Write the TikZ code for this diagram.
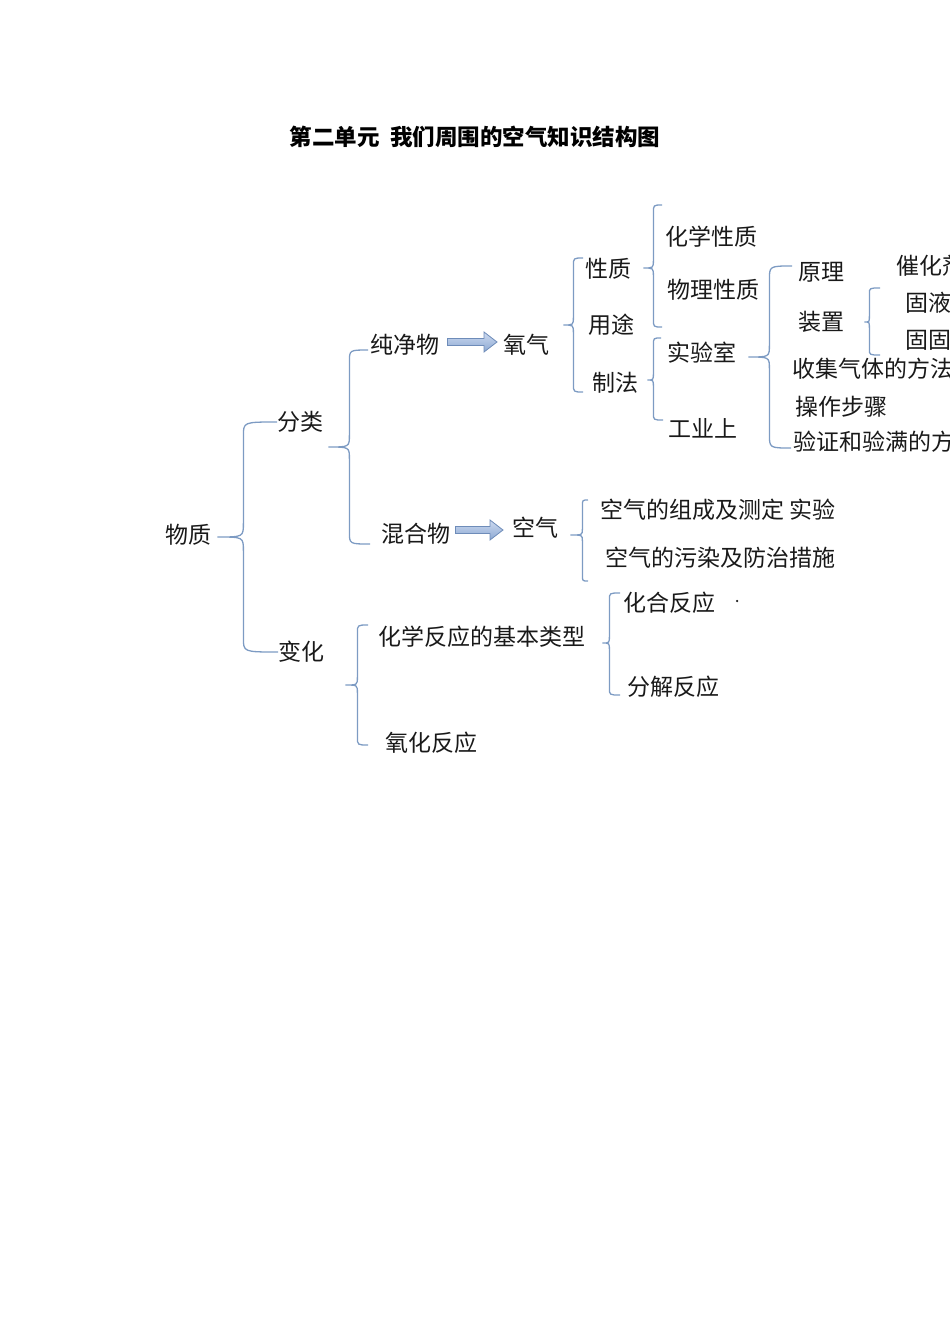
\documentclass[tikz,border=0pt]{standalone}
\usepackage{fontspec}
\usepackage{tikz}
\usetikzlibrary{calc}
\newfontfamily\cjk{Noto Sans CJK SC}
\definecolor{kuolan}{RGB}{125, 155, 195}
\definecolor{jtbian}{RGB}{110, 140, 185}
\definecolor{jtshang}{RGB}{205, 218, 240}
\definecolor{jtxia}{RGB}{140, 168, 210}
\definecolor{zihei}{RGB}{25, 25, 25}
\tikzset{zi/.style = {anchor = west, inner sep = 0, text = zihei, font = \cjk\fontsize{23}{23}\selectfont}}
\tikzset{biaoti/.style = {inner sep = 0, text = black, font = \cjk\bfseries\fontsize{22.5}{22.5}\selectfont}}
\tikzset{kuo/.style = {draw = kuolan, line width = 1.3pt}}
\tikzset{jt/.style = {draw = jtbian, line width = 0.8pt, top color = jtshang, bottom color = jtxia}}
\tikzset{dian/.style = {fill = zihei, circle, inner sep = 0, minimum size = 2.5pt}}
% brace: top end, bottom end, tip, spine offset, end radius, tip radius
\newcommand{\kuohao}[6]{%
  \coordinate (kbt) at (#1);
  \coordinate (kbd) at (#2);
  \coordinate (kbj) at (#3);
  \coordinate (kbz) at ($(kbj) + (#4, 0)$);
  \draw [kuo] (kbt) .. controls (kbt -| kbz) .. ($(kbt -| kbz) + (0, #5)$)
    -- ($(kbj -| kbz) + (0, -#6)$) .. controls (kbj -| kbz) .. (kbj)
    .. controls (kbj -| kbz) .. ($(kbj -| kbz) + (0, #6)$)
    -- ($(kbd -| kbz) + (0, -#5)$) .. controls (kbd -| kbz) .. (kbd);}
% block arrow from one point to another
\newcommand{\jiantou}[2]{%
  \path [jt] let \p1 = (#1), \p2 = (#2) in
    (\x1, \y1 + 3.5pt) -- (\x2 - 13pt, \y1 + 3.5pt) -- (\x2 - 13pt, \y1 + 10pt)
    -- (\x2, \y1) -- (\x2 - 13pt, \y1 - 10pt) -- (\x2 - 13pt, \y1 - 3.5pt)
    -- (\x1, \y1 - 3.5pt) -- cycle;}

\begin{document}
\begin{tikzpicture}[x = 1pt, y = -1pt]
          \useasboundingbox (0, 0) rectangle (950, 1344);
          \clip (0, 0) rectangle (950, 1344);

          \node [biaoti] (bt) at (475, 137) {第二单元\hspace{0.45em}我们周围的空气知识结构图};

          \node [zi] (wz) at (165, 535) {物质};
          \node [zi] (fl) at (277, 422) {分类};
          \node [zi] (bh) at (278, 652) {变化};
          \node [zi] (cjw) at (370, 345) {纯净物};
          \node [zi] (yq) at (503, 345) {氧气};
          \node [zi] (hhw) at (381, 534) {混合物};
          \node [zi] (kq) at (512, 528) {空气};

          \node [zi] (xz) at (585, 269) {性质};
          \node [zi] (yt) at (588, 325) {用途};
          \node [zi] (zf) at (592, 383) {制法};
          \node [zi] (hxxz) at (665, 237) {化学性质};
          \node [zi] (wlxz) at (667, 290) {物理性质};
          \node [zi] (sys) at (667, 353) {实验室};
          \node [zi] (gys) at (668, 428) {工业上};
          \node [zi] (yl) at (798, 272) {原理};
          \node [zi] (zz) at (798, 322) {装置};
          \node [zi] (chj) at (896, 266) {催化剂};
          \node [zi] (gy) at (905, 303) {固液};
          \node [zi] (gg) at (905, 340) {固固};
          \node [zi] (sj) at (792, 369) {收集气体的方法};
          \node [zi] (cz) at (795, 407) {操作步骤};
          \node [zi] (yz) at (793, 442) {验证和验满的方};

          \node [zi] (kz) at (600, 510) {空气的组成及测定 实验};
          \node [zi] (kw) at (605, 558) {空气的污染及防治措施};
          \node [zi] (jblx) at (378, 637) {化学反应的基本类型};
          \node [zi] (hh) at (623, 603) {化合反应};
          \node [zi] (fj) at (627, 687) {分解反应};
          \node [zi] (yh) at (385, 743) {氧化反应};
          \node [dian] (d) at (737, 601) {};

          \kuohao{fl.west}{bh.west}{$(wz.east) + (6, 2)$}{26}{14}{14}
          \kuohao{$(cjw.west) + (-2, 5)$}{$(hhw.west) + (-11, 10)$}{$(fl.east) + (5, 25)$}{21}{12}{12}
          \kuohao{$(xz.west) + (-2, -11)$}{$(zf.west) + (-9, 9)$}{$(yq.east) + (14, -20)$}{10}{8}{8}
          \kuohao{$(hxxz.west) + (-3, -32)$}{$(wlxz.west) + (-5, 37)$}{$(xz.east) + (12, -1)$}{10}{8}{8}
          \kuohao{$(sys.west) + (-6, -15)$}{$(gys.west) + (-5, -8)$}{$(zf.east) + (9, -3)$}{6}{7}{7}
          \kuohao{$(yl.west) + (-6, -6)$}{$(yz.west) + (-2, 6)$}{$(sys.east) + (12, 4)$}{21}{14}{12}
          \kuohao{$(gy.west) + (-25, -15)$}{$(gg.west) + (-25, 15)$}{$(zz.east) + (20, 0)$}{5}{6}{6}
          \kuohao{$(kz.west) + (-12, -10)$}{$(kw.west) + (-17, 23)$}{$(kq.east) + (12, 7)$}{12}{6}{6}
          \kuohao{$(jblx.west) + (-10, -12)$}{$(yh.west) + (-17, 2)$}{$(bh.east) + (21, 33)$}{12}{8}{8}
          \kuohao{$(hh.west) + (-3, -10)$}{$(fj.west) + (-7, 8)$}{$(jblx.east) + (17, 6)$}{7}{7}{7}

          \jiantou{$(cjw.east) + (8, -3)$}{$(yq.west) + (-6, 0)$}
          \jiantou{$(hhw.east) + (5, -4)$}{$(kq.west) + (-9, 0)$}
        \end{tikzpicture}
\end{document}
